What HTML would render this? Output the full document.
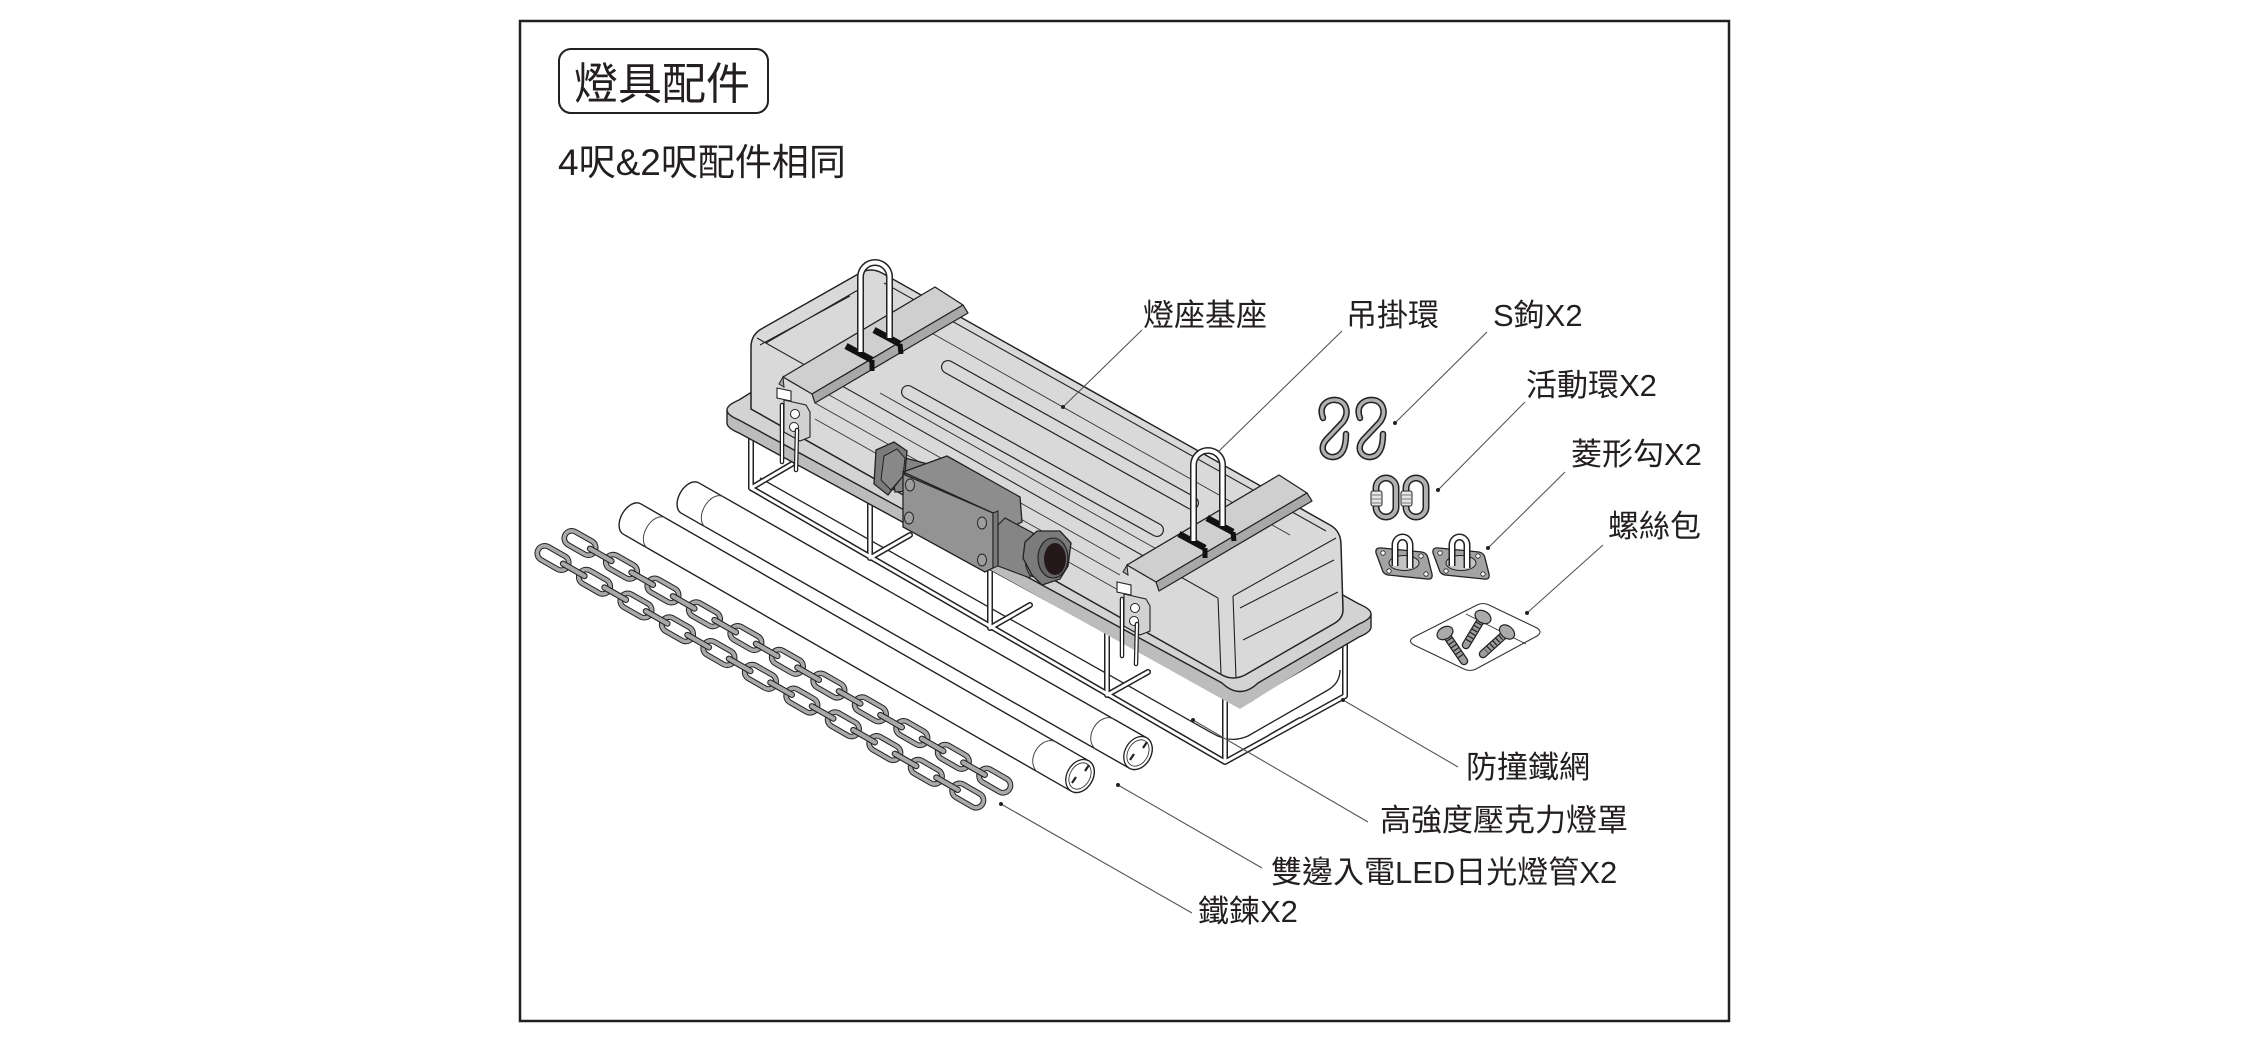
<!DOCTYPE html>
<html><head><meta charset="utf-8"><style>
html,body{margin:0;padding:0;background:#fff;}
svg{display:block}
text{font-family:"Liberation Sans","Noto Sans CJK TC","Noto Sans CJK SC",sans-serif;fill:#231f20}
</style></head><body>
<svg width="2250" height="1042" viewBox="0 0 2250 1042" xmlns="http://www.w3.org/2000/svg">
<defs>
<g id="fl"><rect x="-17" y="-7.5" width="34" height="15" rx="7.5" fill="none" stroke="#222" stroke-width="5.6"/><rect x="-17" y="-7.5" width="34" height="15" rx="7.5" fill="none" stroke="#a9a9a9" stroke-width="3.6"/></g>
<g id="sl"><rect x="-15" y="-2.6" width="30" height="5.2" rx="2.6" fill="#a9a9a9" stroke="#222" stroke-width="1.1"/></g>
<g id="latch">
<polygon points="777,388 791,391 791,401 777,398" fill="#fff" stroke="#222" stroke-width="1.1"/>
<polygon points="784,400 806,405 810,412 810,437 800,441 784,432" fill="#d2d2d2" stroke="#222" stroke-width="1.1"/>
<circle cx="795" cy="414" r="4.5" fill="#fff" stroke="#222" stroke-width="1"/>
<circle cx="794" cy="427" r="4.5" fill="#fff" stroke="#222" stroke-width="1"/>
<path d="M782,405 L782,462 M797,430 L796,470" fill="none" stroke="#222" stroke-width="4.5" stroke-linecap="round"/>
<path d="M782,405 L782,462 M797,430 L796,470" fill="none" stroke="#fff" stroke-width="2" stroke-linecap="round"/>
</g>
<g id="pad">
<path d="M1382,548 L1422,552 Q1427,553 1428,558 L1432,574 Q1433,580 1427,579 L1388,575 Q1383,574 1382,569 L1376,553 Q1375,547 1382,548 Z" fill="#a3a3a3" stroke="#222" stroke-width="1.3"/>
<ellipse cx="1404" cy="563" rx="15" ry="7.5" fill="#c3c3c3" stroke="#222" stroke-width="1"/>
<circle cx="1383" cy="553" r="2.2" fill="#fff" stroke="#222" stroke-width="0.8"/>
<circle cx="1421" cy="556" r="2.2" fill="#fff" stroke="#222" stroke-width="0.8"/>
<circle cx="1426" cy="574" r="2.2" fill="#fff" stroke="#222" stroke-width="0.8"/>
<circle cx="1389" cy="571" r="2.2" fill="#fff" stroke="#222" stroke-width="0.8"/>
<path d="M1395,566 L1395,545 A7.5,8 0 0 1 1410,545 L1410,568" fill="none" stroke="#222" stroke-width="7"/>
<path d="M1395,566 L1395,545 A7.5,8 0 0 1 1410,545 L1410,568" fill="none" stroke="#fff" stroke-width="4"/>
</g>
<g id="shook">
<path d="M1323,418 C1318,405 1328,399 1336,400 C1346,401 1350,412 1343,422 L1326,440 C1318,450 1326,458 1334,457 C1342,456 1346,448 1346,434" fill="none" stroke="#222" stroke-width="6.5" stroke-linecap="round"/>
<path d="M1323,418 C1318,405 1328,399 1336,400 C1346,401 1350,412 1343,422 L1326,440 C1318,450 1326,458 1334,457 C1342,456 1346,448 1346,434" fill="none" stroke="#b0b0b0" stroke-width="3.4" stroke-linecap="round"/>
</g>
<g id="qlink">
<rect x="1376" y="478" width="20" height="39" rx="10" fill="none" stroke="#222" stroke-width="7"/>
<rect x="1376" y="478" width="20" height="39" rx="10" fill="none" stroke="#b0b0b0" stroke-width="4"/>
<rect x="1371" y="491" width="11" height="15" rx="2" fill="#e6e6e6" stroke="#222" stroke-width="1"/>
<path d="M1372,495 L1381,495 M1372,499 L1381,499 M1372,503 L1381,503" stroke="#555" stroke-width="0.8"/>
</g>
</defs>

<!-- frame -->
<rect x="520" y="21" width="1209" height="1000" fill="none" stroke="#231f20" stroke-width="2.5"/>
<rect x="559" y="49" width="209" height="64" rx="12" fill="none" stroke="#231f20" stroke-width="2"/>
<text x="574" y="99" font-size="44">燈具配件</text>
<text x="558" y="175" font-size="37">4呎&amp;2呎配件相同</text>

<!-- diffuser -->
<path d="M760,478 L1212,733 Q1230,744 1248,736 L1328,690 Q1340,683 1340,670" fill="none" stroke="#222" stroke-width="1.3"/>

<!-- wire guard -->
<path d="M751,428 L751,488 L792,464 M870,498 L870,558 L910,535 M990,565 L990,628 L1030,605 M1107,630 L1107,695 L1148,672 M1225,692 L1225,762 L1345,696 L1345,625 M751,488 L1225,762 M1270,737 L1300,720" fill="none" stroke="#222" stroke-width="6" stroke-linejoin="round" stroke-linecap="round"/>
<path d="M751,428 L751,488 L792,464 M870,498 L870,558 L910,535 M990,565 L990,628 L1030,605 M1107,630 L1107,695 L1148,672 M1225,692 L1225,762 L1345,696 L1345,625 M751,488 L1225,762 M1270,737 L1300,720" fill="none" stroke="#fff" stroke-width="3" stroke-linejoin="round" stroke-linecap="round"/>

<!-- flange -->
<path d="M739,413 Q715,423 739,433 L1222,696 Q1240,713 1258,696 L1359,637 Q1383,627 1359,617 L876,349 Q858,333 841,349 Z" fill="#bcbcbc" stroke="#222" stroke-width="1.4"/>
<path d="M727,410 L1240,696 L1371,614 L1371,627 L1240,709 L727,423 Z" fill="#bcbcbc"/>
<path d="M727,410 L727,423 M1371,614 L1371,627" stroke="#222" stroke-width="1.4"/>
<path d="M739,400 Q715,410 739,420 L1222,683 Q1240,700 1258,683 L1359,624 Q1383,614 1359,604 L876,336 Q858,320 841,336 Z" fill="#d3d3d3" stroke="#222" stroke-width="1.4"/>

<!-- housing -->
<path d="M751,409 L751,347 Q751,334 763,328 L860,273 Q871,267 882,273 L1330,525 Q1341,531 1341,545 L1343,610 Q1343,618 1335,623 L1245,675 Q1233,681 1222,675 Z" fill="#d9d9d9" stroke="#222" stroke-width="1.5"/>
<path d="M757,338 L1218,598 M1218,598 L1221,674 M1233,596 L1236,678 M1233,596 L1336,538 M884,283 L1326,531 M766,343 L858,290 M1240,608 L1334,560 M1243,640 L1338,592 M760,345 L850,296" fill="none" stroke="#222" stroke-width="1.1"/>
<path d="M815,387 L1120,559 M815,403 L1120,575 M815,419 L1120,591 M880,393 L1160,551 M905,318 L1290,535" fill="none" stroke="#333" stroke-width="0.9"/>
<!-- slots -->
<path d="M948,367 L1192,503 M908,392 L1157,530" stroke="#222" stroke-width="14" stroke-linecap="round"/>
<path d="M948,367 L1192,503 M908,392 L1157,530" stroke="#d9d9d9" stroke-width="11.6" stroke-linecap="round"/>

<!-- junction box -->
<polygon points="890,454 928,464 928,490 895,492" fill="#858585" stroke="#222" stroke-width="1.2"/>
<polygon points="876,450 894,442 907,451 905,473 888,495 874,484" fill="#7b7b7b" stroke="#222" stroke-width="1.3"/>
<polygon points="884,456 897,449 905,458 903,476 891,490 881,480" fill="#888" stroke="#222" stroke-width="1"/>
<polygon points="903,472 947,456 1020,497 1022,522 995,535 993,513" fill="#8d8d8d" stroke="#222" stroke-width="1.3"/>
<polygon points="903,474 993,513 993,568 985,572 903,527" fill="#939393" stroke="#222" stroke-width="1.3"/>
<polygon points="993,513 998,511 998,566 993,568" fill="#7a7a7a" stroke="#222" stroke-width="1"/>
<ellipse cx="910" cy="485" rx="4.5" ry="6" fill="#9e9e9e" stroke="#222" stroke-width="1"/>
<ellipse cx="909" cy="518" rx="4.5" ry="6" fill="#9e9e9e" stroke="#222" stroke-width="1"/>
<ellipse cx="982" cy="523" rx="4.5" ry="6" fill="#9e9e9e" stroke="#222" stroke-width="1"/>
<ellipse cx="982" cy="560" rx="4.5" ry="6" fill="#9e9e9e" stroke="#222" stroke-width="1"/>
<polygon points="998,525 1005,518 1033,533 1030,578 998,566" fill="#858585" stroke="#222" stroke-width="1.2"/>
<ellipse cx="1034" cy="557" rx="9" ry="20" fill="#888" stroke="#222" stroke-width="1.1"/>
<polygon points="1025,542 1037,531 1060,531 1071,543 1068,566 1060,579 1042,585 1032,575 1023,558" fill="#7b7b7b" stroke="#222" stroke-width="1.3"/>
<ellipse cx="1053" cy="558" rx="15" ry="20" fill="#666" stroke="#222" stroke-width="1.1"/>
<ellipse cx="1055" cy="559" rx="11" ry="16" fill="#24181a"/>

<!-- rails -->
<polygon points="783,377 935,287 963,305 812,394" fill="#cfcfcf" stroke="#222" stroke-width="1.3" stroke-linejoin="round"/>
<polygon points="812,394 963,305 968,313 815,403" fill="#a8a8a8" stroke="#222" stroke-width="1.2" stroke-linejoin="round"/>
<polygon points="783,377 779,384 784,387" fill="#a8a8a8" stroke="#222" stroke-width="1"/>
<polygon points="1127,565 1279,475 1307,493 1156,582" fill="#cfcfcf" stroke="#222" stroke-width="1.3" stroke-linejoin="round"/>
<polygon points="1156,582 1307,493 1312,501 1159,591" fill="#a8a8a8" stroke="#222" stroke-width="1.2" stroke-linejoin="round"/>
<polygon points="1127,565 1123,572 1128,575" fill="#a8a8a8" stroke="#222" stroke-width="1"/>
<!-- marks -->
<path d="M846,346 L872,360 M874,330 L900,344 M1179,534 L1205,548 M1207,518 L1233,532" stroke="#111" stroke-width="6.5"/>
<path d="M872,360 L872,371 M900,344 L901,354 M1205,548 L1205,558 M1233,532 L1234,541" stroke="#111" stroke-width="5"/>
<!-- hangers -->
<path d="M860.5,352 L860.5,277 A14.5,14.5 0 0 1 889.5,277 L889.5,338 M1193.5,541 L1193.5,465 A14.5,14.5 0 0 1 1222.5,465 L1222.5,526" fill="none" stroke="#222" stroke-width="7"/>
<path d="M860.5,352 L860.5,277 A14.5,14.5 0 0 1 889.5,277 L889.5,338 M1193.5,541 L1193.5,465 A14.5,14.5 0 0 1 1222.5,465 L1222.5,526" fill="none" stroke="#fff" stroke-width="4"/>
<!-- latches -->
<use href="#latch"/>
<use href="#latch" transform="translate(340,194)"/>

<!-- tubes -->
<path d="M698.7,482.8 L1146.7,737.8 A13,17.5 29.65 0 1 1129.3,768.2 L681.3,513.2 A11,17.5 29.65 0 1 698.7,482.8 Z" fill="#fff" stroke="#222" stroke-width="1.4"/>
<ellipse cx="1138" cy="753" rx="13" ry="17.5" transform="rotate(29.65 1138 753)" fill="#fff" stroke="#222" stroke-width="1.3"/>
<ellipse cx="1138" cy="753" rx="10" ry="14" transform="rotate(29.65 1138 753)" fill="none" stroke="#222" stroke-width="0.8"/>
<path d="M722.9,496.6 A11,17.5 29.65 0 0 705.6,527.1 M1113.7,719 A13,17.5 29.65 0 0 1096.3,749.4" fill="none" stroke="#444" stroke-width="1"/>
<path d="M1130,760 L1134,754 M1143,748 L1147,742" stroke="#222" stroke-width="2.2"/>
<path d="M640.7,503.8 L1088.7,760.8 A13,17.5 29.85 0 1 1071.3,791.2 L623.3,534.2 A11,17.5 29.85 0 1 640.7,503.8 Z" fill="#fff" stroke="#222" stroke-width="1.4"/>
<ellipse cx="1080" cy="776" rx="13" ry="17.5" transform="rotate(29.85 1080 776)" fill="#fff" stroke="#222" stroke-width="1.3"/>
<ellipse cx="1080" cy="776" rx="10" ry="14" transform="rotate(29.85 1080 776)" fill="none" stroke="#222" stroke-width="0.8"/>
<path d="M665,517.7 A11,17.5 29.85 0 0 647.6,548.1 M1055.7,741.9 A13,17.5 29.85 0 0 1038.3,772.3" fill="none" stroke="#444" stroke-width="1"/>
<path d="M1072,783 L1076,777 M1085,771 L1089,765" stroke="#222" stroke-width="2.2"/>

<!-- chains -->
<g transform="translate(580,543) rotate(29.8)">
<use href="#fl" x="0"/><use href="#fl" x="47.8"/><use href="#fl" x="95.6"/><use href="#fl" x="143.4"/><use href="#fl" x="191.2"/><use href="#fl" x="239"/><use href="#fl" x="286.8"/><use href="#fl" x="334.6"/><use href="#fl" x="382.4"/><use href="#fl" x="430.2"/><use href="#fl" x="478"/>
<use href="#sl" x="23.9"/><use href="#sl" x="71.7"/><use href="#sl" x="119.5"/><use href="#sl" x="167.3"/><use href="#sl" x="215.1"/><use href="#sl" x="262.9"/><use href="#sl" x="310.7"/><use href="#sl" x="358.5"/><use href="#sl" x="406.3"/><use href="#sl" x="454.1"/>
</g>
<g transform="translate(553,558) rotate(29.8)">
<use href="#fl" x="0"/><use href="#fl" x="47.8"/><use href="#fl" x="95.6"/><use href="#fl" x="143.4"/><use href="#fl" x="191.2"/><use href="#fl" x="239"/><use href="#fl" x="286.8"/><use href="#fl" x="334.6"/><use href="#fl" x="382.4"/><use href="#fl" x="430.2"/><use href="#fl" x="478"/>
<use href="#sl" x="23.9"/><use href="#sl" x="71.7"/><use href="#sl" x="119.5"/><use href="#sl" x="167.3"/><use href="#sl" x="215.1"/><use href="#sl" x="262.9"/><use href="#sl" x="310.7"/><use href="#sl" x="358.5"/><use href="#sl" x="406.3"/><use href="#sl" x="454.1"/>
</g>

<!-- accessories -->
<use href="#shook"/>
<use href="#shook" transform="translate(37,0)"/>
<use href="#qlink"/>
<use href="#qlink" transform="translate(30,0)"/>
<use href="#pad"/>
<use href="#pad" transform="translate(57,0)"/>
<!-- screw bag -->
<path d="M1414,637 L1477,605 Q1483,602 1489,605 L1537,628 Q1543,632 1537,636 L1476,669 Q1470,672 1464,669 L1414,645 Q1407,641 1414,637 Z" fill="#fff" stroke="#333" stroke-width="1.1"/>
<path d="M1466,614 L1526,644" stroke="#333" stroke-width="0.9"/>
<g stroke-linecap="round">
<path d="M1447,636 L1464,661 M1481,620 L1466,645 M1504,635 L1483,654" stroke="#222" stroke-width="8.5"/>
<path d="M1447,636 L1464,661 M1481,620 L1466,645 M1504,635 L1483,654" stroke="#9d9d9d" stroke-width="6"/>
<path d="M1449,639 L1462,658 M1479,623 L1468,642 M1501,637 L1486,651" stroke="#222" stroke-width="6" stroke-dasharray="1.2 2.8" stroke-linecap="butt"/>
</g>
<ellipse cx="1445" cy="633" rx="8.5" ry="6" transform="rotate(-30 1445 633)" fill="#aaa" stroke="#222" stroke-width="1.2"/>
<ellipse cx="1483" cy="617" rx="8.5" ry="6" transform="rotate(30 1483 617)" fill="#aaa" stroke="#222" stroke-width="1.2"/>
<ellipse cx="1507" cy="632" rx="8.5" ry="6" transform="rotate(40 1507 632)" fill="#aaa" stroke="#222" stroke-width="1.2"/>

<!-- leader lines -->
<g stroke="#555" stroke-width="1.1" fill="none">
<path d="M1142,330 L1063,407"/>
<path d="M1342,331 L1218,452"/>
<path d="M1487,332 L1395,423"/>
<path d="M1525,402 L1438,490"/>
<path d="M1565,472 L1488,548"/>
<path d="M1603,545 L1527,613"/>
<path d="M1458,767 L1343,700"/>
<path d="M1368,822 L1193,720"/>
<path d="M1262,868 L1118,785"/>
<path d="M1192,913 L1001,804"/>
</g>
<g fill="#222">
<circle cx="1063" cy="407" r="2"/>
<circle cx="1395" cy="423" r="2"/>
<circle cx="1438" cy="490" r="2"/>
<circle cx="1488" cy="548" r="2"/>
<circle cx="1527" cy="613" r="2"/>
<circle cx="1343" cy="700" r="2"/>
<circle cx="1193" cy="720" r="2"/>
<circle cx="1118" cy="785" r="2"/>
<circle cx="1001" cy="804" r="2"/>
</g>

<!-- labels -->
<g font-size="31">
<text x="1143" y="326">燈座基座</text>
<text x="1346" y="326">吊掛環</text>
<text x="1493" y="326">S鉤X2</text>
<text x="1526" y="396">活動環X2</text>
<text x="1571" y="465">菱形勾X2</text>
<text x="1608" y="537">螺絲包</text>
<text x="1466" y="778">防撞鐵網</text>
<text x="1380" y="831">高強度壓克力燈罩</text>
<text x="1271" y="883">雙邊入電LED日光燈管X2</text>
<text x="1198" y="922">鐵鍊X2</text>
</g>
</svg>
</body></html>
